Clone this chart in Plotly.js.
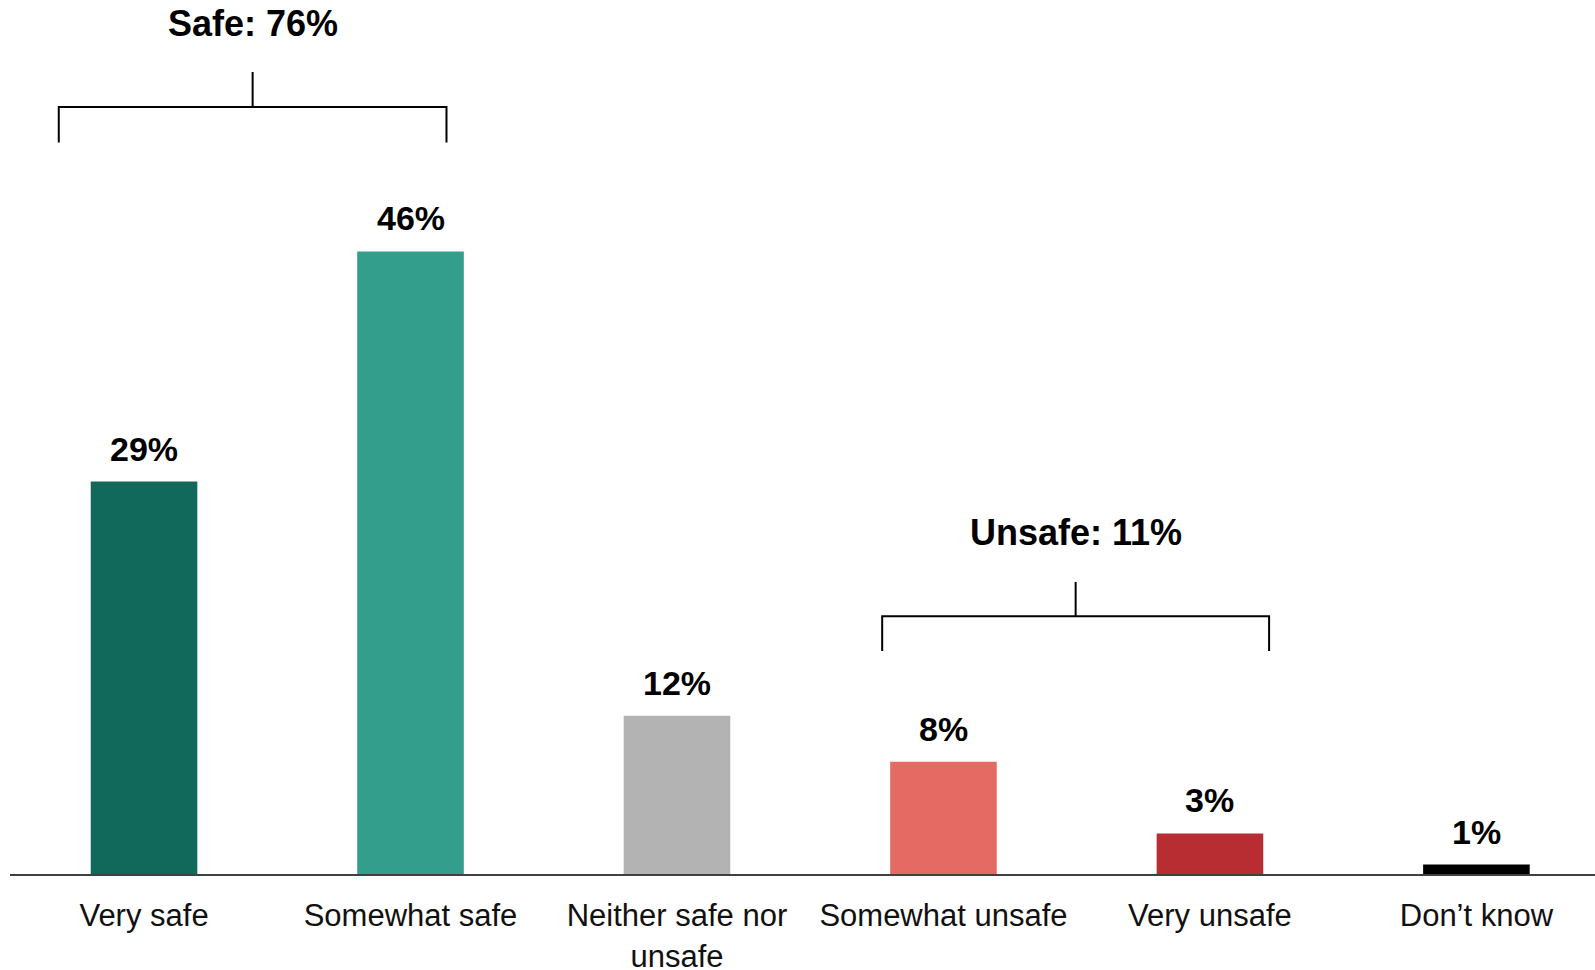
<!DOCTYPE html>
<html><head><meta charset="utf-8">
<script src="https://cdn.plot.ly/plotly-3.0.1.min.js"></script>
<style>html,body{margin:0;padding:0;background:#fff}#chart{width:1595px;height:970px}</style>
</head><body><div id="chart"></div>
<script>
// ---- data ----
const categories = ["Very safe", "Somewhat safe", "Neither safe nor unsafe", "Somewhat unsafe", "Very unsafe", "Don’t know"];
const tickLabels = ["Very safe", "Somewhat safe", "Neither safe nor<br>unsafe", "Somewhat unsafe", "Very unsafe", "Don’t know"];
const values = [29, 46, 11.7, 8.3, 3.0, 0.7];
const valueLabels = ["29%", "46%", "12%", "8%", "3%", "1%"];
const groupLabels = ["Safe: 76%", "Unsafe: 11%"];

// ---- style / layout ----
const barColors = ["#10695a", "#339e8c", "#b3b3b3", "#e66a64", "#b72d31", "#000000"];
const FONT = "Liberation Sans, Arial, sans-serif";
// bracket geometry (axis units): [xLeft, xRight, legBottom, bar, stemTop, labelY]
const brackets = [
  [-0.32, 1.135, 54.05, 56.68, 59.26, 62.85],
  [2.77, 4.222, 16.48, 19.04, 21.58, 25.2]
];

const trace = {
  type: "bar",
  x: categories,
  y: values,
  width: 0.4,
  marker: {color: barColors, line: {width: 0}},
  hoverinfo: "x+y"
};

const shapes = [];
const annotations = [];
brackets.forEach((b, i) => {
  const [xl, xr, y0, y1, y2, ly] = b;
  const xm = (xl + xr) / 2;
  const line = {color: "#000", width: 2};
  shapes.push({type: "path", xref: "x", yref: "y",
    path: `M ${xl} ${y0} L ${xl} ${y1} L ${xr} ${y1} L ${xr} ${y0}`, line: line});
  shapes.push({type: "line", xref: "x", yref: "y", x0: xm, x1: xm, y0: y1, y1: y2, line: line});
  annotations.push({x: xm, y: ly, xref: "x", yref: "y", text: "<b>" + groupLabels[i] + "</b>",
    showarrow: false, xanchor: "center", yanchor: "middle",
    font: {family: FONT, size: 36, color: "#000"}});
});
categories.forEach((c, i) => {
  annotations.push({x: c, y: values[i], xref: "x", yref: "y", text: "<b>" + valueLabels[i] + "</b>",
    showarrow: false, xanchor: "center", yanchor: "middle", yshift: 33,
    font: {family: FONT, size: 34, color: "#000"}});
});

const layout = {
  width: 1595, height: 970,
  margin: {l: 10, r: 0, t: 0, b: 96, pad: 0},
  paper_bgcolor: "#fff", plot_bgcolor: "#fff",
  showlegend: false,
  bargap: 0.6,
  xaxis: {
    type: "category",
    range: [-0.503, 5.445],
    tickvals: categories, ticktext: tickLabels,
    showline: true, linecolor: "#404040", linewidth: 2,
    ticks: "", showgrid: false, zeroline: false,
    ticklabelstandoff: 13,
    automargin: false,
    tickfont: {family: FONT, size: 31, color: "#111"},
    fixedrange: true
  },
  yaxis: {
    range: [0, 64.58], visible: false, showgrid: false, zeroline: false,
    automargin: false, fixedrange: true
  },
  shapes: shapes,
  annotations: annotations
};

Plotly.newPlot("chart", [trace], layout, {displayModeBar: false, staticPlot: true});
</script>
</body></html>
